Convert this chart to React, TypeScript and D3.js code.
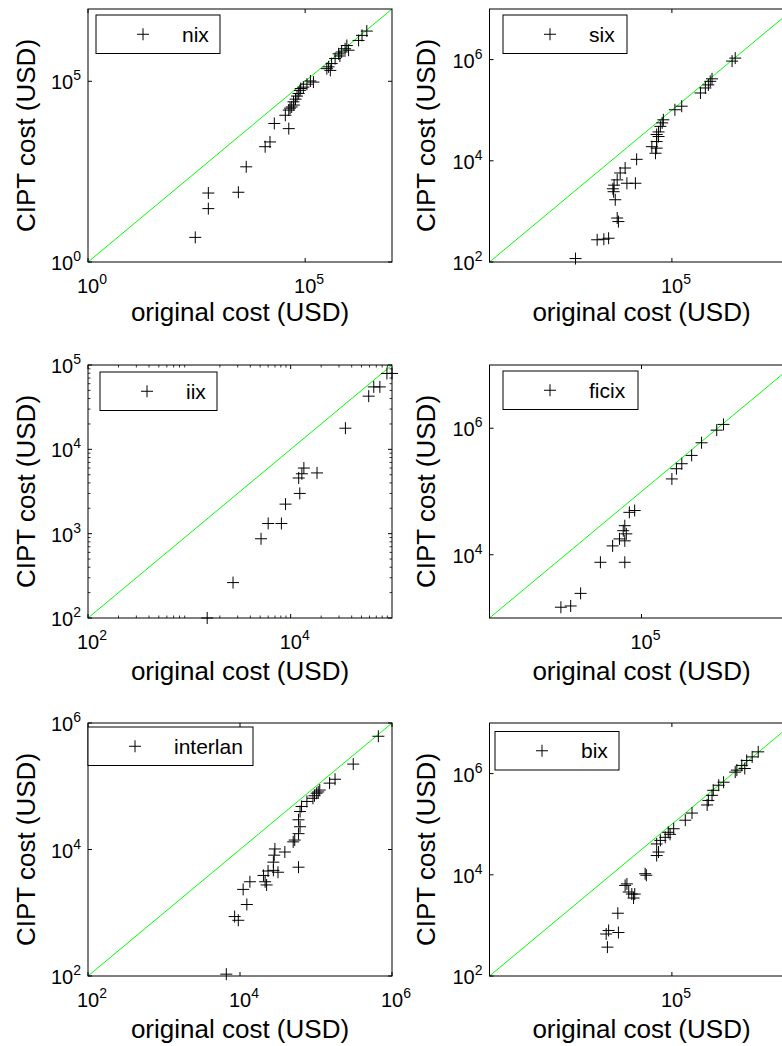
import React from 'react';
import * as d3 from 'd3';

// Each pair is [original cost, CIPT cost] in USD for one member network.
const nixPoints: [number, number][] = [
  [295, 4.8], [590, 30], [590, 81], [2900, 85], [4400, 430], [12000, 1550],
  [15500, 2100], [19500, 6800], [42000, 4900], [35000, 11500], [42000, 16000],
  [45000, 18000], [49000, 19500], [54000, 27000], [55000, 22000], [60000, 32000],
  [65000, 39000], [71000, 46000], [76000, 56000], [79000, 63000], [91000, 69000],
  [110000, 83000], [132000, 102000], [155000, 95000], [316000, 224000],
  [347000, 251000], [380000, 200000], [407000, 309000], [490000, 427000],
  [589000, 575000], [631000, 501000], [692000, 646000], [832000, 794000],
  [912000, 977000], [1000000, 724000], [1700000, 1350000], [2040000, 1860000],
  [2630000, 2450000],
];

const sixPoints: [number, number][] = [
  [2600, 117], [5900, 275], [7600, 282], [9100, 295], [12600, 740], [13200, 630],
  [11700, 1700], [11000, 2450], [10700, 2800], [11200, 3300], [12600, 4200],
  [18200, 3600], [25100, 3600], [14100, 5750], [17000, 7200], [26300, 10700],
  [53700, 14100], [56200, 17800], [46800, 19000], [56200, 24000], [60300, 30200],
  [56200, 33100], [60300, 37200], [64600, 47900], [69200, 56200], [72400, 64600],
  [112000, 102000], [145000, 120000], [295000, 219000], [355000, 275000],
  [398000, 316000], [427000, 372000], [457000, 417000], [977000, 933000],
  [1100000, 1070000],
];

const iixPoints: [number, number][] = [
  [1500, 100], [2700, 263], [5100, 870], [6000, 1320], [8100, 1320], [8900, 2240],
  [12300, 3000], [12000, 4570], [12900, 5130], [13500, 6000], [18200, 5250],
  [34700, 17800], [58900, 42700], [66100, 55000], [75900, 55000], [89100, 79400],
  [100000, 79400],
];

const ficixPoints: [number, number][] = [
  [8700, 1480], [11700, 1550], [15800, 2450], [28800, 7600], [41700, 13800],
  [51300, 17800], [60300, 7600], [60300, 16600], [63100, 21400], [57500, 24000],
  [60300, 28800], [69200, 46800], [81300, 50100], [251000, 158000],
  [288000, 229000], [339000, 275000], [457000, 372000], [617000, 589000],
  [977000, 933000], [1200000, 1150000],
];

const interlanPoints: [number, number][] = [
  [6600, 107], [8500, 870], [9500, 760], [12300, 1350], [11000, 2340],
  [13500, 3090], [21400, 3090], [22400, 2750], [20400, 3890], [23400, 4570],
  [27500, 4680], [31600, 4370], [27500, 6310], [28200, 8130], [28800, 10200],
  [38900, 9120], [58900, 5250], [50100, 13200], [52500, 14100], [58900, 17800],
  [61700, 22900], [58900, 29500], [61700, 39800], [64600, 47900], [75900, 57500],
  [91200, 64600], [95500, 70800], [102000, 77600], [107000, 81300],
  [112000, 87100], [151000, 112000], [178000, 129000], [309000, 224000],
  [661000, 617000],
];

const bixPoints: [number, number][] = [
  [8700, 372], [8300, 676], [9100, 794], [13200, 724], [12900, 1740],
  [17000, 6170], [18200, 6610], [19500, 4570], [21900, 4170], [24500, 4170],
  [23400, 3470], [36300, 10500], [38000, 9800], [56200, 24000], [60300, 28200],
  [56200, 40700], [64600, 47900], [77600, 55000], [87100, 69200], [93300, 63100],
  [107000, 81300], [166000, 120000], [214000, 166000], [380000, 240000],
  [398000, 295000], [457000, 372000], [479000, 468000], [589000, 589000],
  [708000, 676000], [1100000, 1070000], [1170000, 1170000], [1410000, 1450000],
  [1580000, 1260000], [1700000, 1820000], [2090000, 2140000], [2630000, 2690000],
];

const exchangeNames = ['nix', 'six', 'iix', 'ficix', 'interlan', 'bix'];
const exchangePoints = [nixPoints, sixPoints, iixPoints, ficixPoints, interlanPoints, bixPoints];
// Axis range as powers of ten, shared by both axes of a panel.
const axisDecades: [number, number][] = [[0, 7], [2, 7], [2, 5], [3, 7], [2, 6], [2, 7]];
const xTickExponents = [[0, 5], [5], [2, 4], [5], [2, 4, 6], [5]];
const yTickExponents = [[0, 5], [2, 4, 6], [2, 3, 4, 5], [4, 6], [2, 4, 6], [2, 4, 6]];
const showMinorTicks = [false, false, true, false, false, false];

const xAxisTitle = 'original cost (USD)';
const yAxisTitle = 'CIPT cost (USD)';

// Layout
const W = 782;
const H = 1046;
const PLOT_W = 304;
const PLOT_H = 253;
const COL_X = [88, 489.5];
const ROW_Y = [9, 365, 723];
const XTITLE_BASELINE = [321, 680, 1038];
const YTITLE_BASELINE = [35, 435];
const LEGEND_LAYOUT = [
  { dx: 8, dy: 6, w: 124 },
  { dx: 13.5, dy: 6, w: 124 },
  { dx: 12, dy: 7, w: 117 },
  { dx: 13.5, dy: 6, w: 135 },
  { dx: 0, dy: 4, w: 165 },
  { dx: 5.5, dy: 8.5, w: 124 },
];
const FONT = "'Liberation Sans', Arial, Helvetica, sans-serif";
const MARK = 6;

function Plus({ cx, cy }: { cx: number; cy: number }) {
  return (
    <path
      d={`M${cx - MARK},${cy}H${cx + MARK}M${cx},${cy - MARK}V${cy + MARK}`}
      stroke="#000"
      strokeWidth={1}
      fill="none"
    />
  );
}

function PowerLabel({ x, y, exp, anchor }: { x: number; y: number; exp: number; anchor: 'end' | 'middle' }) {
  return (
    <text x={x} y={y} fontFamily={FONT} fontSize={20} textAnchor={anchor} fill="#000">
      <tspan>10</tspan>
      <tspan dy={-9} fontSize={14}>{exp}</tspan>
    </text>
  );
}

function Panel({ index }: { index: number }) {
  const col = index % 2;
  const row = Math.floor(index / 2);
  const left = COL_X[col];
  const top = ROW_Y[row];
  const bottom = top + PLOT_H;
  const right = left + PLOT_W;
  const [lo, hi] = axisDecades[index];
  const domain = [10 ** lo, 10 ** hi];
  const x = d3.scaleLog().domain(domain).range([left, right]);
  const y = d3.scaleLog().domain(domain).range([bottom, top]);
  const pts = exchangePoints[index];
  const leg = LEGEND_LAYOUT[index];
  const legX = left + leg.dx;
  const legY = top + leg.dy;
  const legH = 38.5;

  const ticks: JSX.Element[] = [];
  const TL = 4;
  xTickExponents[index].forEach((e) => {
    const px = x(10 ** e);
    ticks.push(<line key={`xb${e}`} x1={px} x2={px} y1={bottom} y2={bottom - TL} stroke="#000" />);
    ticks.push(<line key={`xt${e}`} x1={px} x2={px} y1={top} y2={top + TL} stroke="#000" />);
  });
  yTickExponents[index].forEach((e) => {
    const py = y(10 ** e);
    ticks.push(<line key={`yl${e}`} x1={left} x2={left + TL} y1={py} y2={py} stroke="#000" />);
    ticks.push(<line key={`yr${e}`} x1={right} x2={right - TL} y1={py} y2={py} stroke="#000" />);
  });
  if (showMinorTicks[index]) {
    const ML = 2.5;
    for (let d = lo; d < hi; d++) {
      for (let m = 2; m <= 9; m++) {
        const v = m * 10 ** d;
        const px = x(v);
        const py = y(v);
        ticks.push(<line key={`mxb${d}-${m}`} x1={px} x2={px} y1={bottom} y2={bottom - ML} stroke="#000" strokeWidth={0.8} />);
        ticks.push(<line key={`mxt${d}-${m}`} x1={px} x2={px} y1={top} y2={top + ML} stroke="#000" strokeWidth={0.8} />);
        ticks.push(<line key={`myl${d}-${m}`} x1={left} x2={left + ML} y1={py} y2={py} stroke="#000" strokeWidth={0.8} />);
        ticks.push(<line key={`myr${d}-${m}`} x1={right} x2={right - ML} y1={py} y2={py} stroke="#000" strokeWidth={0.8} />);
      }
    }
  }

  const midY = (top + bottom) / 2;
  const midX = (left + right) / 2;

  return (
    <g>
      <rect x={left} y={top} width={PLOT_W} height={PLOT_H} fill="#fff" stroke="none" />
      <line
        x1={x(domain[0])}
        y1={y(domain[0])}
        x2={x(domain[1])}
        y2={y(domain[1])}
        stroke="#00ff00"
        strokeWidth={1}
      />
      {pts.map(([o, c], i) => (
        <Plus key={i} cx={x(o)} cy={y(c)} />
      ))}
      {ticks}
      <rect x={left} y={top} width={PLOT_W} height={PLOT_H} fill="none" stroke="#000" strokeWidth={1} />
      {yTickExponents[index].map((e) => (
        <PowerLabel key={`yl${e}`} x={left - 7} y={y(10 ** e) + 8} exp={e} anchor="end" />
      ))}
      {xTickExponents[index].map((e) => (
        <PowerLabel key={`xl${e}`} x={x(10 ** e) + 4} y={bottom + 31} exp={e} anchor="middle" />
      ))}
      <text
        x={midX}
        y={XTITLE_BASELINE[row]}
        fontFamily={FONT}
        fontSize={26}
        textAnchor="middle"
        fill="#000"
      >
        {xAxisTitle}
      </text>
      <text
        transform={`translate(${YTITLE_BASELINE[col]},${midY}) rotate(-90)`}
        fontFamily={FONT}
        fontSize={26}
        textAnchor="middle"
        fill="#000"
      >
        {yAxisTitle}
      </text>
      <rect x={legX} y={legY} width={leg.w} height={legH} fill="#fff" stroke="#000" strokeWidth={1} />
      <Plus cx={legX + 47} cy={legY + legH / 2} />
      <text x={legX + 86} y={legY + legH / 2 + 7.5} fontFamily={FONT} fontSize={21} fill="#000">
        {exchangeNames[index]}
      </text>
    </g>
  );
}

export default function App() {
  return (
    <svg
      width={W}
      height={H}
      viewBox={`0 0 ${W} ${H}`}
      style={{ position: 'absolute', left: 0, top: 0, background: '#fff' }}
    >
      <rect x={0} y={0} width={W} height={H} fill="#fff" />
      {exchangeNames.map((_, i) => (
        <Panel key={i} index={i} />
      ))}
    </svg>
  );
}
